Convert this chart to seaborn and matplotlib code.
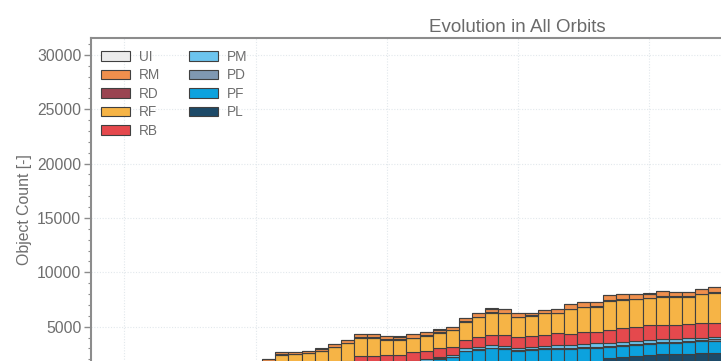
import matplotlib
matplotlib.use("Agg")
import numpy as np
import pandas as pd
import matplotlib.pyplot as plt
import seaborn as sns
from matplotlib.patches import Patch
from matplotlib.ticker import MultipleLocator, FuncFormatter

# ---------------- data (objects per class, per year) ----------------
years = list(range(1958, 2007))
classes = ["UI", "RM", "RD", "RF", "RB", "PM", "PD", "PF", "PL"]

PL = [8, 14, 30, 60, 110, 160, 230, 300, 360, 400, 440, 480, 510,
      560, 590, 620, 650, 690, 730, 780,
      900, 920, 940, 960, 990, 1020, 1050, 1080,
      1110, 1140, 1170, 1200, 1240, 1280, 1320, 1360, 1420, 1500, 1740,
      2100, 2215, 2300, 2375, 2440, 2465, 2510, 2535, 2580, 2625]
PD = [0, 0, 1, 2, 4, 6, 8, 10, 12, 14, 16, 18, 20,
      25, 27, 29, 31, 33, 35, 37,
      40, 42, 44, 46, 48, 50, 52, 54,
      56, 58, 60, 62, 64, 66, 68, 70, 72, 74, 78,
      80, 85, 90, 95, 100, 105, 110, 115, 120, 125]
PF = [0, 0, 2, 5, 8, 12, 18, 25, 35, 45, 55, 65, 75,
      90, 100, 110, 122, 150, 200, 260,
      400, 450, 500, 534, 722, 790, 1008, 1106,
      1624, 1712, 1830, 1738, 1546, 1564, 1612, 1630, 1508, 1516, 1342,
      1040, 1010, 1020, 1030, 1050, 1050, 1060, 1120, 1130, 1130]
PM = [2, 4, 6, 12, 18, 25, 32, 40, 45, 50, 55, 60, 65,
      75, 78, 81, 84, 87, 90, 93,
      110, 110, 110, 110, 120, 120, 130, 150,
      210, 250, 250, 220, 210, 250, 250, 250, 300, 320, 310,
      310, 310, 300, 300, 240, 250, 250, 220, 250, 270]
RB = [4, 8, 15, 30, 50, 70, 95, 120, 145, 165, 185, 205, 225,
      550, 605, 610, 613, 640, 645, 630,
      850, 798, 756, 750, 820, 780, 760, 770,
      770, 890, 920, 1010, 1020, 980, 980, 1070, 1060, 1130, 1070,
      1160, 1230, 1290, 1350, 1320, 1280, 1290, 1320, 1290, 1300]
RF = [2, 6, 20, 60, 110, 160, 230, 300, 380, 440, 505, 570, 640,
      520, 1020, 1020, 1050, 1160, 1420, 1680,
      1650, 1640, 1450, 1380, 1230, 1390, 1420, 1500,
      1690, 1810, 2070, 2000, 1780, 1840, 2000, 1850, 2240, 2240, 2300,
      2700, 2600, 2510, 2460, 2610, 2610, 2540, 2670, 2755, 2800]
RD = [0, 0, 2, 4, 6, 8, 10, 12, 15, 18, 20, 22, 25,
      30, 35, 35, 40, 40, 45, 50,
      55, 55, 55, 55, 55, 55, 55, 55,
      55, 60, 60, 60, 60, 60, 60, 60, 60, 60, 60,
      60, 60, 60, 60, 60, 60, 60, 60, 60, 60]
RM = [4, 8, 12, 24, 40, 55, 72, 88, 102, 112, 118, 124, 134,
      140, 175, 185, 190, 190, 195, 230,
      275, 275, 255, 255, 305, 265, 255, 275,
      245, 300, 310, 300, 300, 240, 230, 300, 400, 400, 390,
      450, 450, 420, 380, 450, 390, 390, 400, 485, 510]
UI = [0, 0, 2, 3, 4, 4, 5, 5, 6, 6, 6, 6, 6] + [10] * 36

series = {"UI": UI, "RM": RM, "RD": RD, "RF": RF, "RB": RB,
          "PM": PM, "PD": PD, "PF": PF, "PL": PL}

colors = {"UI": "#ececec", "RM": "#ef8f4d", "RD": "#9a4451", "RF": "#f6b446",
          "RB": "#e5494d", "PM": "#6cc4ee", "PD": "#7f98b2", "PF": "#0ca2de",
          "PL": "#1d4a68"}

rows = []
for c in classes:
    for y, v in zip(years, series[c]):
        rows.append({"year": y, "cls": c, "count": v})
df = pd.DataFrame(rows)

# ---------------- style ----------------
sns.set_theme(style="white")
plt.rcParams["font.family"] = ["Liberation Sans", "DejaVu Sans"]

W, H = 721, 361
fig = plt.figure(figsize=(W / 100, H / 100), dpi=100)
fig.patch.set_facecolor("white")
ax = fig.add_axes([91 / W, (H - 381) / H, 852 / W, (381 - 38.3) / H])

edge = "#404040"
sns.histplot(data=df, x="year", weights="count", hue="cls", hue_order=classes,
             multiple="stack", discrete=True, shrink=1, palette=colors,
             edgecolor=edge, linewidth=0.8, alpha=1, legend=False, ax=ax)

ax.set_xlim(1957.45, 2022.4)
ax.set_ylim(0, 31530)
ax.xaxis.set_major_locator(MultipleLocator(10))
ax.yaxis.set_major_locator(MultipleLocator(5000))
ax.yaxis.set_minor_locator(MultipleLocator(1000))
# the 0 label sits below the cropped picture edge
ax.yaxis.set_major_formatter(FuncFormatter(lambda v, p: "" if v <= 0 else f"{v:.0f}"))

ax.set_axisbelow(True)
ax.grid(True, which="major", color="#e2e8ec", linestyle=(0, (1, 1.5)), linewidth=0.8)

spine_c = "#8c8c8c"
for s in ax.spines.values():
    s.set_color(spine_c)
    s.set_linewidth(1.5)
    s.set_visible(True)

txt_c = "#6e6e6e"
ax.tick_params(axis="y", which="major", direction="out", length=5, width=1,
               color=spine_c, labelcolor=txt_c, labelsize=11.3, pad=2, left=True)
ax.tick_params(axis="y", which="minor", direction="out", length=2.5, width=0.8,
               color=spine_c, left=True)
# x tick labels lie below the visible (cropped) area of the figure
ax.tick_params(axis="x", which="major", direction="out", length=5, width=1,
               color=spine_c, bottom=True, labelbottom=False)

ax.set_xlabel("")
ax.set_ylabel("Object Count [-]", fontsize=11.4, color=txt_c, labelpad=3.5)
ax.set_title("Evolution in All Orbits", fontsize=13.5, color="#6a6a6a", pad=4.5)

handles = [Patch(facecolor=colors[c], edgecolor=edge, linewidth=0.8, label=c)
           for c in classes]
ax.legend(handles=handles, ncol=2, loc="upper left",
          bbox_to_anchor=(101 / W, 1 - 50 / H), bbox_transform=fig.transFigure,
          frameon=False, fontsize=9.8, labelcolor=txt_c, handlelength=2.1,
          handleheight=0.7, handletextpad=0.7, columnspacing=2.1,
          labelspacing=0.33, borderpad=0, borderaxespad=0)

fig.savefig("out.png", dpi=100)
